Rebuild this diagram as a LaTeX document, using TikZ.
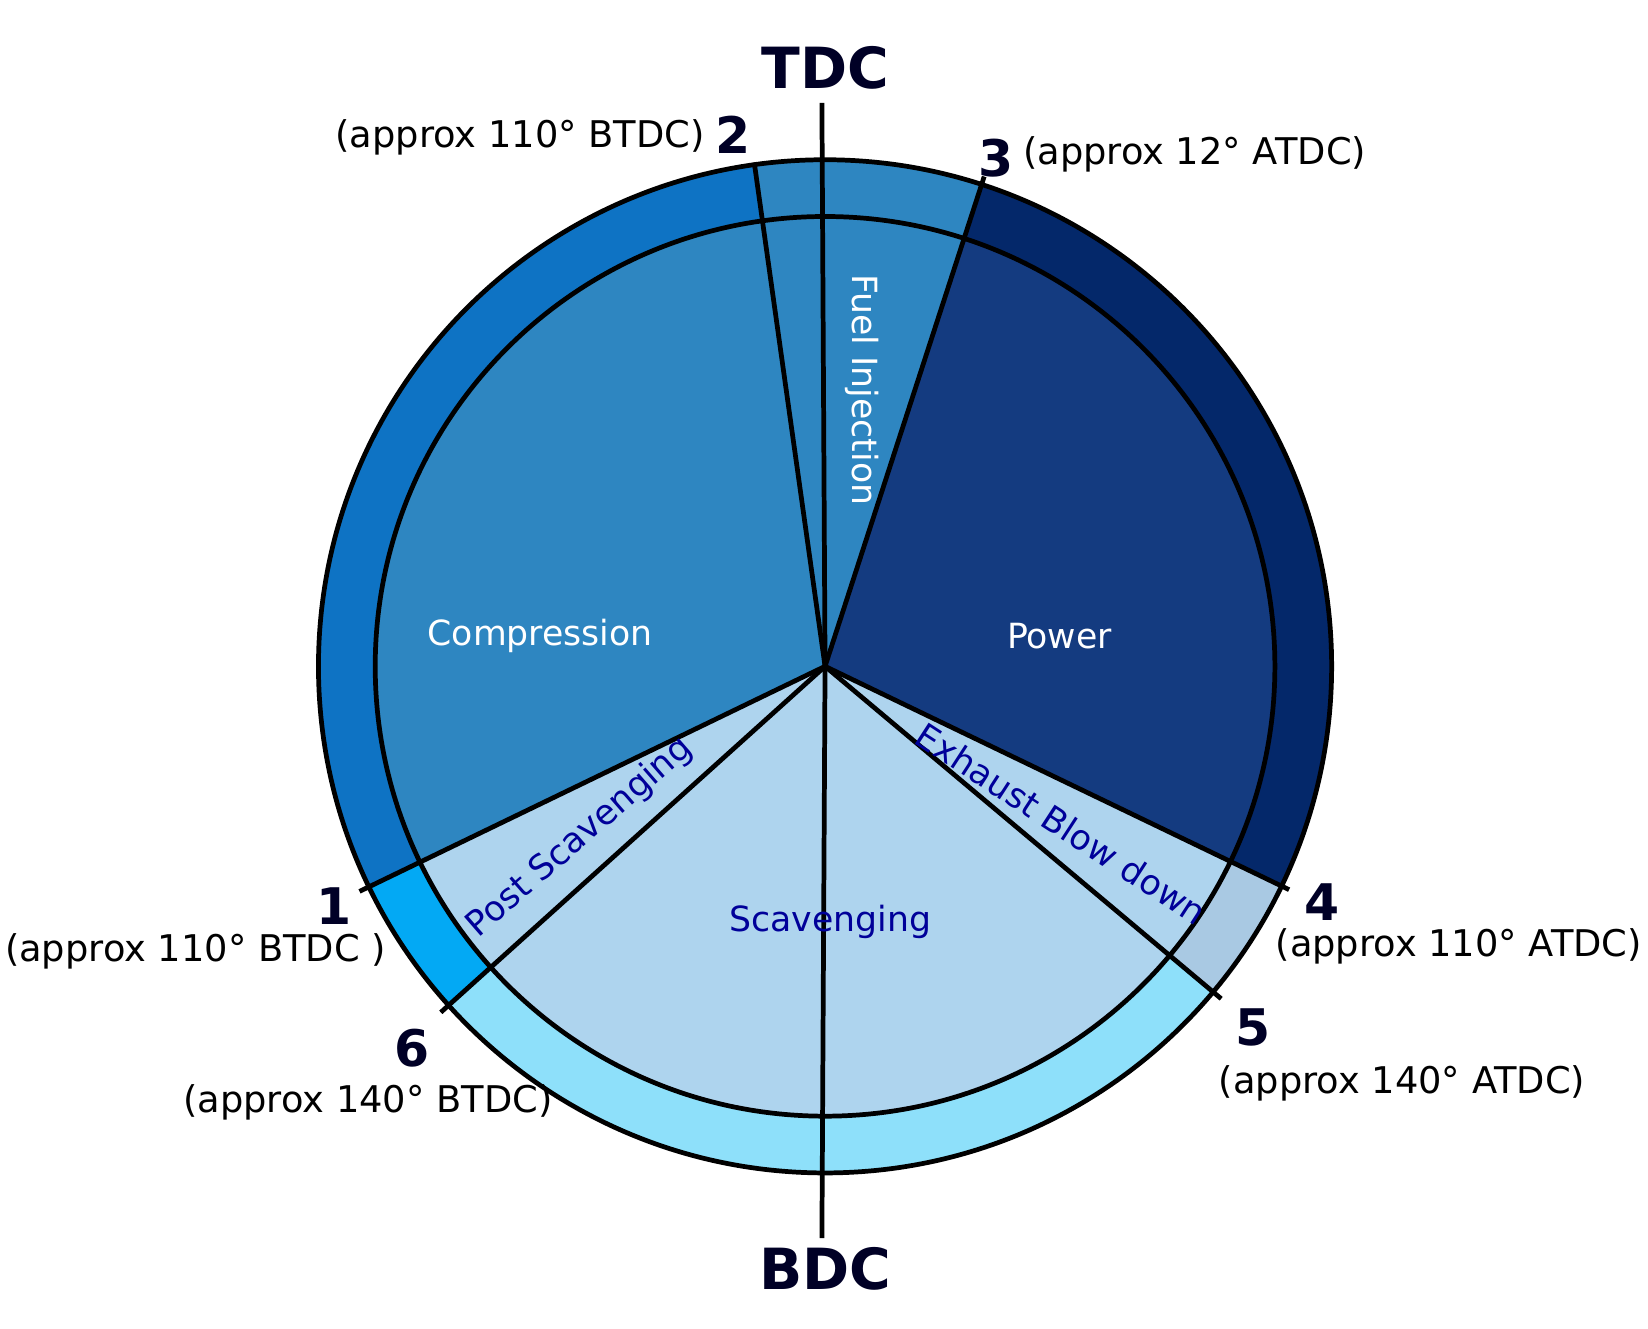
\documentclass[tikz,border=0pt]{standalone}
\usepackage{fontspec}
\setmainfont{DejaVu Sans}
\begin{document}
\begin{tikzpicture}[x=1pt,y=1pt,
  lab/.style={font=\fontsize{35}{38}\selectfont},
  num/.style={font=\fontsize{48}{52}\selectfont\bfseries, text=black!85!blue},
  big/.style={font=\fontsize{54}{58}\selectfont\bfseries, text=black!85!blue},
  inw/.style={font=\fontsize{33}{36}\selectfont, text=white},
  inb/.style={font=\fontsize{33}{36}\selectfont, text=blue!60!black},
  ln/.style={line width=4.5pt, black}]
\definecolor{compO}{HTML}{0E73C4}
\definecolor{comp}{HTML}{2E86C1}
\definecolor{powO}{HTML}{04286A}
\definecolor{pow}{HTML}{143B80}
\definecolor{ltb}{HTML}{AED4EE}
\definecolor{exO}{HTML}{A9C9E3}
\definecolor{scO}{HTML}{8EE0FA}
\definecolor{psO}{HTML}{03A9F4}
\useasboundingbox (0,0) rectangle (1568,1264);
\fill[white] (0,0) rectangle (1568,1264);
\coordinate (C) at (785,630);
\def\sect#1#2#3#4{\fill[#1] (C) -- ++(#2:#4) arc[start angle=#2,end angle=#3,radius=#4] -- cycle;}
% outer ring
\sect{compO}{98}{205.8}{482}
\sect{comp}{72}{98}{482}
\sect{powO}{-25.7}{72}{482}
\sect{exO}{-40}{-25.7}{482}
\sect{scO}{-138}{-40}{482}
\sect{psO}{-154.2}{-138}{482}
% inner
\sect{comp}{72}{205.8}{428}
\sect{pow}{-25.7}{72}{428}
\sect{ltb}{-154.2}{-25.7}{428}
\draw[ln] (C) circle[radius=482];
\draw[ln] (C) circle[radius=428];
% lines
\coordinate (T) at (782,1166);
\coordinate (B) at (782,86);
\draw[ln] (T) -- (C) -- (B);
\foreach \a/\r in {98/484,72/490,-25.7/490,-40/492,-138/492,205.8/492}
  \draw[ln] (C) -- ++(\a:\r);
% texts
\node[big] (tdc) at (785,1199) {TDC};
\node[big] (bdc) at (785,57) {BDC};
\node[num] (n2) at (697,1136) {2};
\node[lab,anchor=east] (l2) at (674,1133) {(approx 110° BTDC)};
\node[num] (n3) at (948,1114) {3};
\node[lab,anchor=west] (l3) at (970,1117) {(approx 12° ATDC)};
\node[num] (n1) at (318,402) {1};
\node[lab] (l1) at (186,359) {(approx 110° BTDC )};
\node[num] (n4) at (1258,406) {4};
\node[lab] (l4) at (1388,364) {(approx 110° ATDC)};
\node[num] (n5) at (1192,286) {5};
\node[lab] (l5) at (1334,233) {(approx 140° ATDC)};
\node[num] (n6) at (392,267) {6};
\node[lab] (l6) at (350,215) {(approx 140° BTDC)};
\node[inw] (comp) at (514,659) {Compression};
\node[inw] (pw) at (1008,659) {Power};
\node[inw,rotate=-90] (fi) at (820,893) {Fuel Injection};
\node[inb] (sc) at (790,387) {Scavenging};
\node[inb,rotate=41] (ps) at (552,467) {Post Scavenging};
\node[inb,rotate=-33] (eb) at (1010,480) {Exhaust Blow down};
\end{tikzpicture}
\end{document}
